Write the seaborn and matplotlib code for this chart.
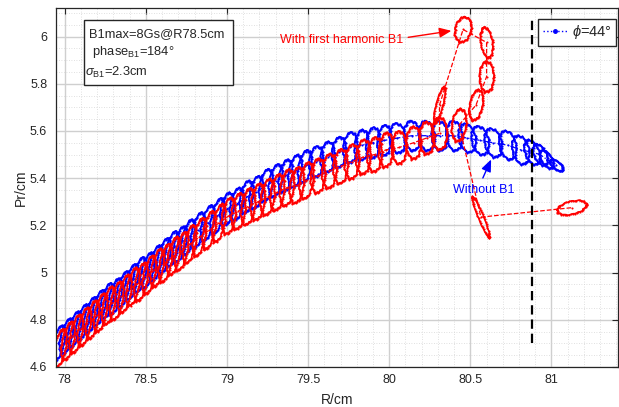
import numpy as np
import pandas as pd
import matplotlib
matplotlib.use("Agg")
import matplotlib.pyplot as plt
import seaborn as sns
from matplotlib.lines import Line2D
from matplotlib.patches import Rectangle
from matplotlib.ticker import MultipleLocator, FormatStrFormatter

# ---- orbit centres and shapes, without B1 ----
blue_r = [77.96, 78.01, 78.06, 78.11, 78.16, 78.21, 78.26, 78.31, 78.36, 78.41,
          78.46, 78.51, 78.56, 78.61, 78.66, 78.71, 78.76, 78.82, 78.88, 78.94,
          79.00, 79.06, 79.12, 79.18, 79.24, 79.30, 79.36, 79.42, 79.48,
          79.55, 79.62, 79.69, 79.76, 79.83, 79.90, 79.97,
          80.05, 80.14, 80.23, 80.31, 80.40,
          80.48, 80.56, 80.64, 80.73, 80.81,
          80.88, 80.93, 80.97, 81.03]
blue_pr = [4.70, 4.73, 4.76, 4.79, 4.82, 4.85, 4.88, 4.90, 4.93, 4.96,
           4.99, 5.01, 5.04, 5.07, 5.10, 5.12, 5.15, 5.18, 5.21, 5.24,
           5.27, 5.29, 5.32, 5.34, 5.37, 5.39, 5.41, 5.43, 5.45,
           5.47, 5.49, 5.51, 5.53, 5.54, 5.55, 5.56,
           5.57, 5.58, 5.58, 5.58, 5.58,
           5.57, 5.56, 5.55, 5.54, 5.52,
           5.51, 5.50, 5.48, 5.455]
blue_half_r = [0.036, 0.036, 0.036, 0.036, 0.036, 0.036, 0.036, 0.036, 0.036, 0.036,
               0.036, 0.036, 0.036, 0.036, 0.036, 0.036, 0.036, 0.036, 0.036, 0.036,
               0.040, 0.040, 0.040, 0.040, 0.040, 0.040, 0.040, 0.040, 0.040,
               0.044, 0.044, 0.044, 0.044, 0.044, 0.044, 0.044,
               0.050, 0.050, 0.050, 0.050, 0.050,
               0.052, 0.052, 0.052, 0.052, 0.052,
               0.045, 0.040, 0.036, 0.032]
blue_half_pr = [0.074, 0.074, 0.074, 0.074, 0.074, 0.074, 0.074, 0.074, 0.074, 0.074,
                0.074, 0.074, 0.074, 0.074, 0.074, 0.074, 0.074, 0.074, 0.074, 0.074,
                0.068, 0.068, 0.068, 0.068, 0.068, 0.068, 0.068, 0.068, 0.068,
                0.064, 0.064, 0.064, 0.064, 0.064, 0.064, 0.064,
                0.062, 0.062, 0.062, 0.062, 0.062,
                0.060, 0.060, 0.060, 0.060, 0.060,
                0.052, 0.045, 0.038, 0.024]
blue_shear = [0.024, 0.024, 0.024, 0.024, 0.024, 0.024, 0.024, 0.024, 0.024, 0.024,
              0.024, 0.024, 0.024, 0.024, 0.024, 0.024, 0.024, 0.024, 0.024, 0.024,
              0.016, 0.016, 0.016, 0.016, 0.016, 0.016, 0.016, 0.016, 0.016,
              0.006, 0.006, 0.006, 0.006, 0.006, 0.006, 0.006,
              -0.006, -0.006, -0.006, -0.006, -0.006,
              -0.014, -0.014, -0.014, -0.014, -0.014,
              -0.020, -0.022, -0.024, -0.025]
blue_tilt = [0.0] * len(blue_r)

# ---- orbit centres and shapes, with first harmonic B1 ----
red_r = [77.97, 78.02, 78.07, 78.12, 78.17, 78.22, 78.27, 78.32, 78.37, 78.42,
         78.47, 78.52, 78.57, 78.62, 78.67, 78.72, 78.77, 78.83, 78.89, 78.95,
         79.01, 79.07, 79.13, 79.19, 79.25, 79.31, 79.37, 79.43, 79.49,
         79.56, 79.63, 79.70, 79.77, 79.84, 79.91, 79.98,
         80.06, 80.15, 80.23, 80.31,
         80.31, 80.455, 80.60, 80.60, 80.535, 80.43, 80.565, 81.125]
red_pr = [4.68, 4.71, 4.74, 4.77, 4.80, 4.83, 4.86, 4.88, 4.91, 4.94,
          4.96, 4.99, 5.02, 5.04, 5.07, 5.09, 5.12, 5.15, 5.18, 5.21,
          5.24, 5.26, 5.28, 5.30, 5.32, 5.34, 5.36, 5.37, 5.39,
          5.41, 5.43, 5.45, 5.47, 5.49, 5.50, 5.52,
          5.53, 5.55, 5.57, 5.59,
          5.71, 6.03, 5.975, 5.83, 5.71, 5.625, 5.235, 5.275]
red_half_r = [0.036, 0.036, 0.036, 0.036, 0.036, 0.036, 0.036, 0.036, 0.036, 0.036,
              0.036, 0.036, 0.036, 0.036, 0.036, 0.036, 0.036, 0.036, 0.036, 0.036,
              0.042, 0.042, 0.042, 0.042, 0.042, 0.042, 0.042, 0.042, 0.042,
              0.045, 0.045, 0.045, 0.045, 0.045, 0.045, 0.045,
              0.046, 0.046, 0.046, 0.046,
              0.022, 0.050, 0.036, 0.044, 0.040, 0.044, 0.018, 0.090]
red_half_pr = [0.080, 0.080, 0.080, 0.080, 0.080, 0.080, 0.080, 0.080, 0.080, 0.080,
               0.080, 0.080, 0.080, 0.080, 0.080, 0.080, 0.080, 0.080, 0.080, 0.080,
               0.076, 0.076, 0.076, 0.076, 0.076, 0.076, 0.076, 0.076, 0.076,
               0.072, 0.072, 0.072, 0.072, 0.072, 0.072, 0.072,
               0.068, 0.068, 0.068, 0.068,
               0.076, 0.053, 0.064, 0.064, 0.064, 0.068, 0.085, 0.028]
red_shear = [0.022, 0.022, 0.022, 0.022, 0.022, 0.022, 0.022, 0.022, 0.022, 0.022,
             0.022, 0.022, 0.022, 0.022, 0.022, 0.022, 0.022, 0.022, 0.022, 0.022,
             0.014, 0.014, 0.014, 0.014, 0.014, 0.014, 0.014, 0.014, 0.014,
             0.006, 0.006, 0.006, 0.006, 0.006, 0.006, 0.006,
             0.0, 0.0, 0.0, 0.0,
             0.028, 0.010, -0.012, 0.0, 0.015, 0.010, -0.050, 0.0]
red_tilt = [0.0] * 47 + [0.012]

# extraction radius marker and labels
r_limit = 80.88
pr_limit = [4.70, 6.07]
box_lines = ["B1max=8Gs@R78.5cm", r" phase$_{\rm B1}$=184°", r"$\sigma_{\rm B1}$=2.3cm"]
legend_label = r"$\phi$=44°"


def orbit_outline(cx, cy, a, b, s, q, n=52):
    t = np.linspace(0.0, 2.0 * np.pi, n)
    ripple = 1.0 + 0.05 * np.sin(13 * t) + 0.03 * np.cos(7 * t) + 0.02 * np.sin(23 * t)
    x = cx + ripple * (a * np.cos(t) + s * np.sin(t))
    y = cy + ripple * (b * np.sin(t) + q * np.cos(t))
    return x, y


def outlines_frame(rs, prs, ars, brs, ss, qs):
    parts = []
    for k, (cx, cy, a, b, s, q) in enumerate(zip(rs, prs, ars, brs, ss, qs)):
        x, y = orbit_outline(cx, cy, a, b, s, q)
        parts.append(pd.DataFrame({"R": x, "Pr": y, "orbit": k}))
    return pd.concat(parts, ignore_index=True)


blue_df = outlines_frame(blue_r, blue_pr, blue_half_r, blue_half_pr, blue_shear, blue_tilt)
red_df = outlines_frame(red_r, red_pr, red_half_r, red_half_pr, red_shear, red_tilt)

sns.set_theme(style="white")
plt.rcParams["font.family"] = ["Liberation Sans", "DejaVu Sans"]
plt.rcParams["mathtext.fontset"] = "custom"
plt.rcParams["mathtext.rm"] = "Liberation Sans"
plt.rcParams["mathtext.it"] = "Liberation Sans:italic"

W, H = 619, 407
fig = plt.figure(figsize=(W / 100, H / 100), dpi=100)
fig.patch.set_facecolor("white")
ax = fig.add_axes([55.5 / W, 40 / H, (618 - 55.5) / W, (367 - 8) / H])

BLUE = (0.0, 0.0, 1.0)
RED = (1.0, 0.0, 0.0)

sns.lineplot(data=blue_df, x="R", y="Pr", units="orbit", estimator=None, sort=False,
             color=BLUE, lw=1.15, marker=".", markersize=3, markeredgewidth=0, ax=ax,
             legend=False)
sns.lineplot(x=blue_r, y=blue_pr, estimator=None, sort=False, color=BLUE, lw=0.9,
             linestyle="-.", marker=".", markersize=3, markeredgewidth=0, ax=ax, legend=False)

sns.lineplot(data=red_df, x="R", y="Pr", units="orbit", estimator=None, sort=False,
             color=RED, lw=1.15, marker=".", markersize=3, markeredgewidth=0, ax=ax,
             legend=False)
sns.lineplot(x=red_r, y=red_pr, estimator=None, sort=False, color=RED, lw=0.9,
             linestyle="--", marker=".", markersize=3, markeredgewidth=0, ax=ax, legend=False)

ax.plot([r_limit, r_limit], pr_limit, color="black", lw=1.6, dashes=(4.2, 2.2), zorder=5)

# axes styling
ax.set_xlim(77.943, 81.41)
ax.set_ylim(4.6, 6.121)
ax.xaxis.set_major_locator(MultipleLocator(0.5))
ax.xaxis.set_minor_locator(MultipleLocator(0.1))
ax.yaxis.set_major_locator(MultipleLocator(0.2))
ax.yaxis.set_minor_locator(MultipleLocator(0.05))
ax.xaxis.set_major_formatter(FormatStrFormatter("%g"))
ax.yaxis.set_major_formatter(FormatStrFormatter("%g"))
ax.grid(which="major", color="#cfcfcf", lw=1.0, ls="-", zorder=0)
ax.grid(which="minor", color="#d6d6d6", lw=0.6, ls=(0, (1, 2)), zorder=0)
ax.set_axisbelow(True)
for sp in ax.spines.values():
    sp.set_color("#262626")
    sp.set_linewidth(0.9)
    sp.set_visible(True)
ax.tick_params(which="major", direction="in", top=True, right=True, length=4,
               width=0.8, color="#262626", labelcolor="#262626", labelsize=9)
ax.tick_params(which="minor", length=0, top=True, right=True)
ax.tick_params(axis="x", pad=5)
ax.tick_params(axis="y", pad=6)
ax.set_xlabel("R/cm", fontsize=10, color="#262626")
ax.set_ylabel("Pr/cm", fontsize=10, color="#262626")
ax.xaxis.set_label_coords(0.5, -0.072)
ax.yaxis.set_label_coords(-0.05, 0.5)

# annotations
ax.text(79.327, 5.986, "With first harmonic B1", color=RED, fontsize=9, va="center", ha="left")
ax.annotate("", xy=(80.40, 6.026), xytext=(80.10, 5.995),
            arrowprops=dict(arrowstyle="-|>,head_length=0.6,head_width=0.25", color=RED, lw=1.0))
ax.text(80.584, 5.35, "Without B1", color=BLUE, fontsize=9, va="center", ha="center")
ax.annotate("", xy=(80.635, 5.49), xytext=(80.57, 5.39),
            arrowprops=dict(arrowstyle="-|>,head_length=0.6,head_width=0.25", color=BLUE, lw=1.0))

# parameter box
fig.patches.append(Rectangle((84 / W, (H - 85) / H), 149 / W, 65 / H, transform=fig.transFigure,
                             facecolor="white", edgecolor="#262626", lw=1.0, zorder=2))
fig.text(89.5 / W, (H - 34) / H, box_lines[0], fontsize=9.3, va="center", ha="left",
         color="#262626", zorder=3)
fig.text(89 / W, (H - 52) / H, box_lines[1], fontsize=9.3, va="center", ha="left",
         color="#262626", zorder=3)
fig.text(85 / W, (H - 72) / H, box_lines[2], fontsize=9.3, va="center", ha="left",
         color="#262626", zorder=3)

# legend
handle = Line2D([], [], color=BLUE, ls=":", lw=1.0, marker=".", markersize=5)
leg = ax.legend([handle], [legend_label], numpoints=1,
                loc="upper right", bbox_to_anchor=(616 / W, 388 / H),
                bbox_transform=fig.transFigure, fancybox=False, framealpha=1,
                edgecolor="#262626", fontsize=10.5, handlelength=1.7, handletextpad=0.3,
                borderpad=0.3, borderaxespad=0)
leg.get_frame().set_linewidth(1.0)
for t in leg.get_texts():
    t.set_color("#262626")

fig.savefig("out.png", dpi=100)
